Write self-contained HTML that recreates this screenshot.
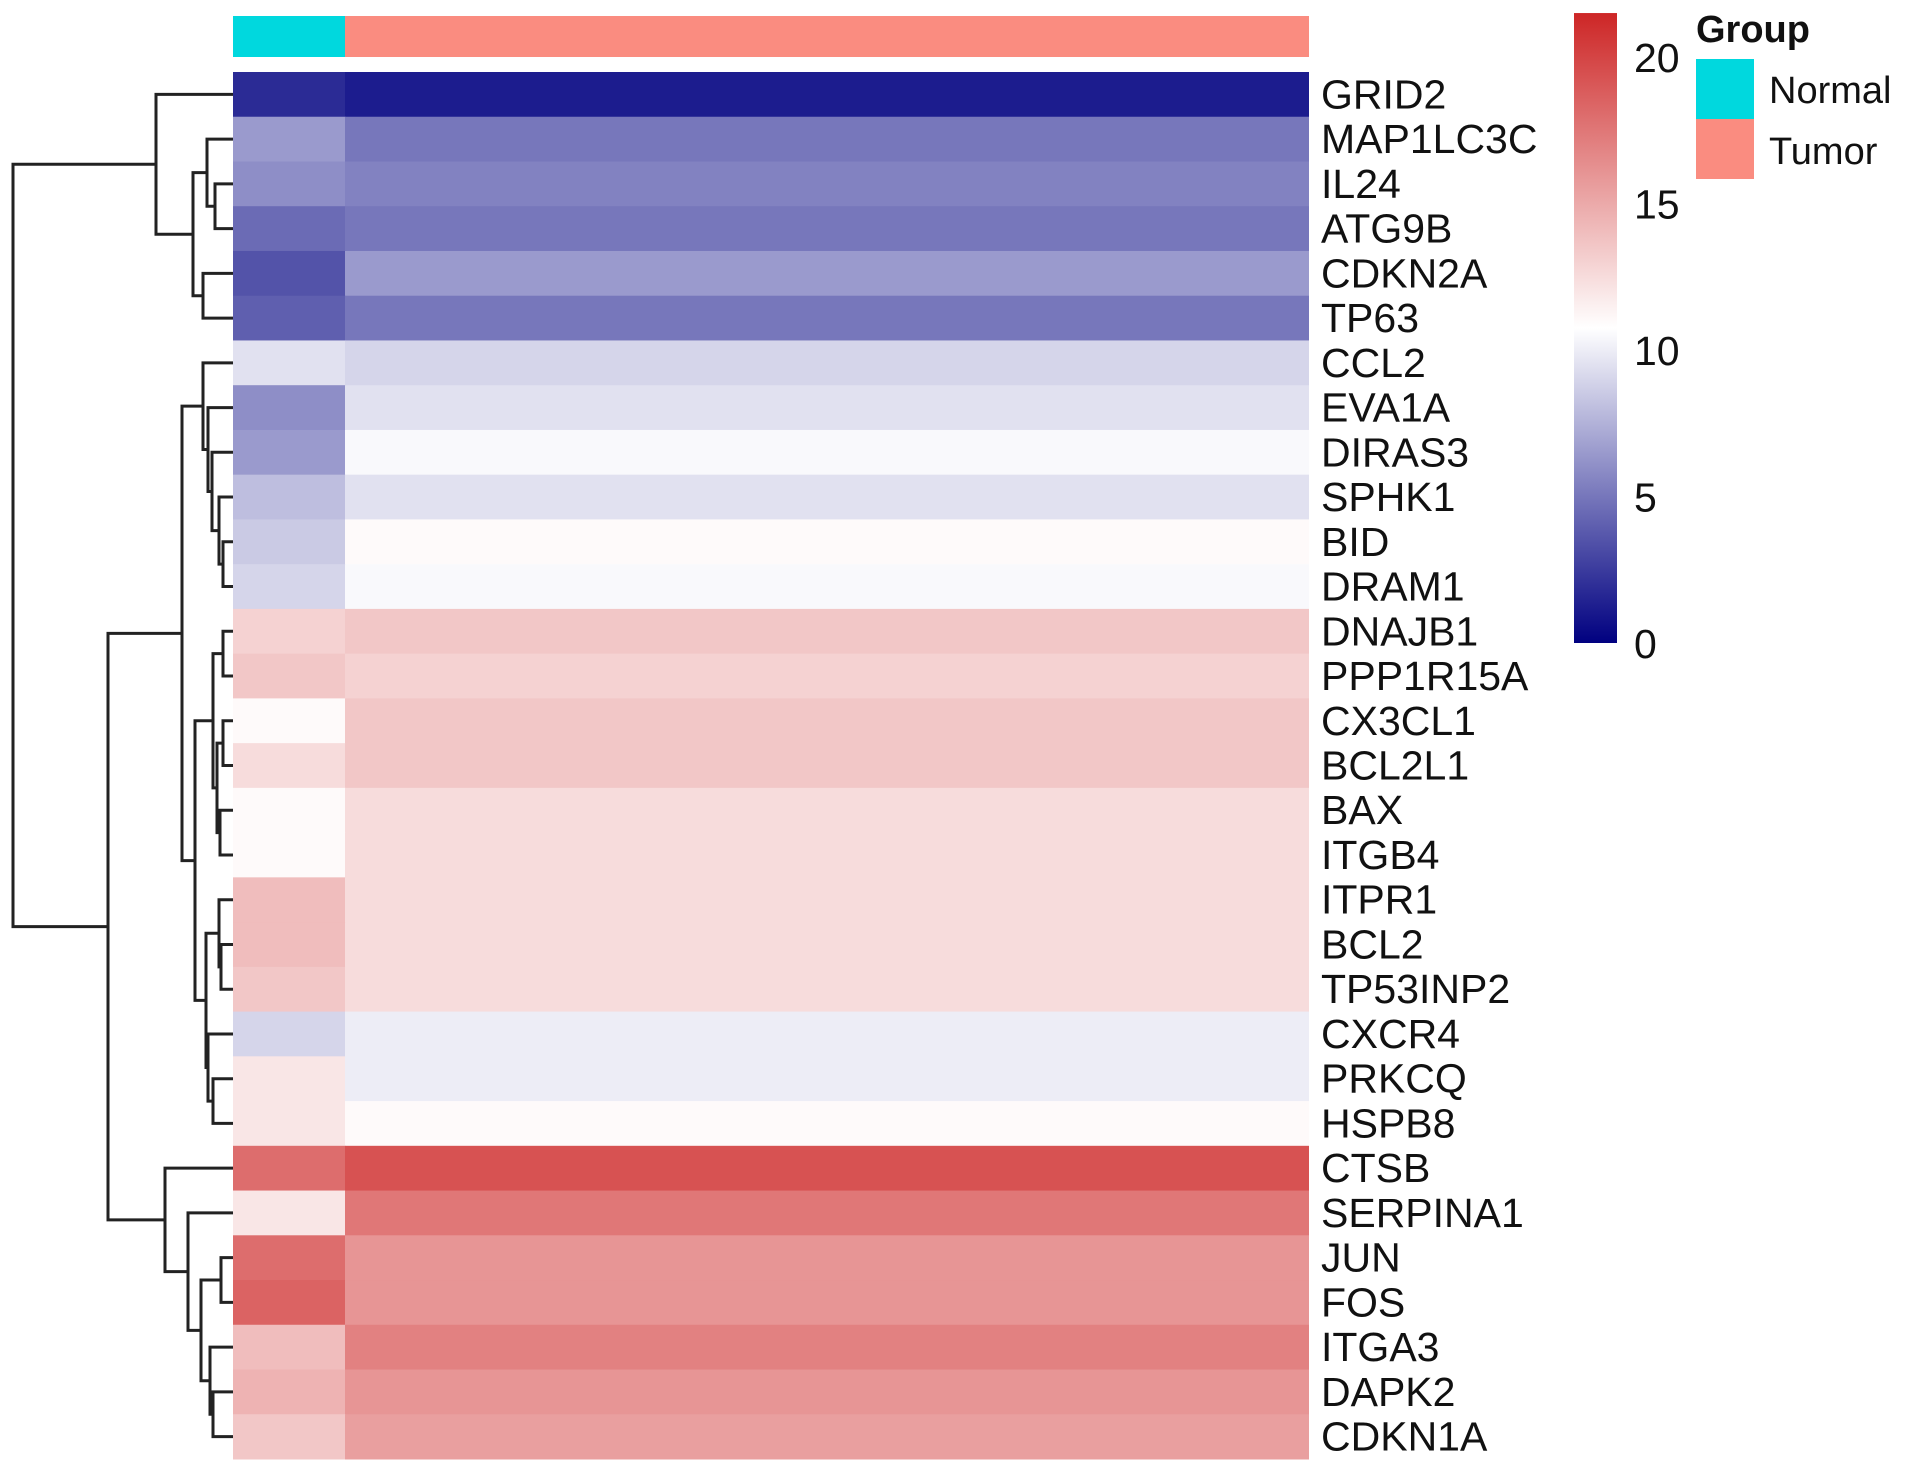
<!DOCTYPE html>
<html><head><meta charset="utf-8"><style>
html,body{margin:0;padding:0;background:#fff;}
svg{display:block;font-family:"Liberation Sans",Arial,sans-serif;}
</style></head><body>
<svg id="chart" width="1913" height="1472" viewBox="0 0 1913 1472" xmlns="http://www.w3.org/2000/svg">
<g id="anno"></g>
<g id="cells"></g>
<g id="labels"></g>
<g id="dendro" stroke="#222" stroke-width="3" fill="none"></g>
<defs><linearGradient id="cbgrad" x1="0" y1="1" x2="0" y2="0">
<stop offset="0" stop-color="#000080"/><stop offset="0.5" stop-color="#ffffff"/><stop offset="1" stop-color="#CD2626"/></linearGradient></defs>
<g id="colorbar"></g>
<g id="legend">
<text x="1696" y="42" font-size="38" font-weight="bold" fill="#111">Group</text>
<rect x="1696" y="59" width="58" height="60" fill="#00D8DE"/>
<rect x="1696" y="119" width="58" height="60" fill="#FA8C80"/>
<text x="1769" y="103" font-size="38" fill="#111">Normal</text>
<text x="1769" y="164" font-size="38" fill="#111">Tumor</text>
</g>
</svg>
<script>
const genes = ["GRID2","MAP1LC3C","IL24","ATG9B","CDKN2A","TP63","CCL2","EVA1A","DIRAS3","SPHK1","BID","DRAM1","DNAJB1","PPP1R15A","CX3CL1","BCL2L1","BAX","ITGB4","ITPR1","BCL2","TP53INP2","CXCR4","PRKCQ","HSPB8","CTSB","SERPINA1","JUN","FOS","ITGA3","DAPK2","CDKN1A"];
const groups = ["Normal","Tumor"];
const normalValues = [1.8,6.5,6,4.5,3.5,4,9.5,6,6.5,8,8.5,9,13,13.5,11,12.5,11,11,14,14,13.5,9,12,12,18,12,18,18.5,14,14.5,13.5];
const tumorValues = [1.2,5,5.5,5,6.5,5,9,9.5,10.5,9.5,11,10.5,13.5,13,13.5,13.5,12.5,12.5,12.5,12.5,12.5,10,10,11,19.3,17.5,16,16,17,16,15.5];
const colorTicks = [0,5,10,15,20];
const colorMin = 0, colorMax = 21.5;

const NS="http://www.w3.org/2000/svg";
function mk(tag,attrs,parent){const e=document.createElementNS(NS,tag);for(const k in attrs)e.setAttribute(k,attrs[k]);parent.appendChild(e);return e;}
const X0=233,X1=1309,XN=345,Y0=72,Y1=1459;
const rowH=(Y1-Y0)/genes.length;
const rowY=i=>Y0+i*rowH;
const rowC=i=>Y0+(i+0.5)*rowH;
function lerp(a,b,t){return Math.round(a+(b-a)*t);}
function color(v){
  let t=(v-colorMin)/(colorMax-colorMin);t=Math.max(0,Math.min(1,t));
  if(t<0.5){const s=t/0.5;return `rgb(${lerp(0,255,s)},${lerp(0,255,s)},${lerp(128,255,s)})`;}
  const s=(t-0.5)/0.5;return `rgb(${lerp(255,205,s)},${lerp(255,38,s)},${lerp(255,38,s)})`;
}
const anno=document.getElementById('anno');
let r=mk('rect',{x:X0,y:16,width:XN-X0,height:41,fill:'#00D8DE'},anno);


r=mk('rect',{x:XN,y:16,width:X1-XN,height:41,fill:'#FA8C80'},anno);



const cells=document.getElementById('cells');
const labels=document.getElementById('labels');
genes.forEach((g,i)=>{
  let c=mk('rect',{x:X0,y:rowY(i),width:XN-X0+0.5,height:rowH+0.5,fill:color(normalValues[i])},cells);
  
  
  c=mk('rect',{x:XN,y:rowY(i),width:X1-XN,height:rowH+0.5,fill:color(tumorValues[i])},cells);
  
  
  const t=mk('text',{x:1321,y:rowC(i)+14,'font-size':41,fill:'#111'},labels);
  t.textContent=g;
  
  
});

const tree=[[[0,[[1,[2,3,215],207],[4,5,203],193],156],
 [[[6,[7,[8,[9,[10,11,223],219],212],208],203],
   [[[12,13,223],[[14,15,223],[16,17,220],217],213],[[18,[19,20,221],219],[21,[22,23,213],208],206],195],182],
  [24,[25,[[26,27,221],[28,[29,30,213],210],201],188],165],108],13]];
const dg=document.getElementById('dendro');
function draw(n){
  if(typeof n==='number')return {x:X0,y:rowC(n)};
  const a=draw(n[0]),b=draw(n[1]),h=n[2];
  const p=mk('path',{d:`M${a.x},${a.y}H${h}V${b.y}H${b.x}`},dg);
  
  
  return {x:h,y:(a.y+b.y)/2};
}
draw(tree[0]);

const cb=document.getElementById('colorbar');
const CB0=643,CB20=57;const cy=v=>CB0+(CB20-CB0)*v/20;
r=mk('rect',{x:1574,y:cy(colorMax),width:43,height:cy(colorMin)-cy(colorMax),fill:'url(#cbgrad)'},cb);


colorTicks.forEach(v=>{
  const t=mk('text',{x:1634,y:cy(v)+15,'font-size':41,fill:'#111'},cb);
  t.textContent=v;
  
  
});
</script>
</body></html>
